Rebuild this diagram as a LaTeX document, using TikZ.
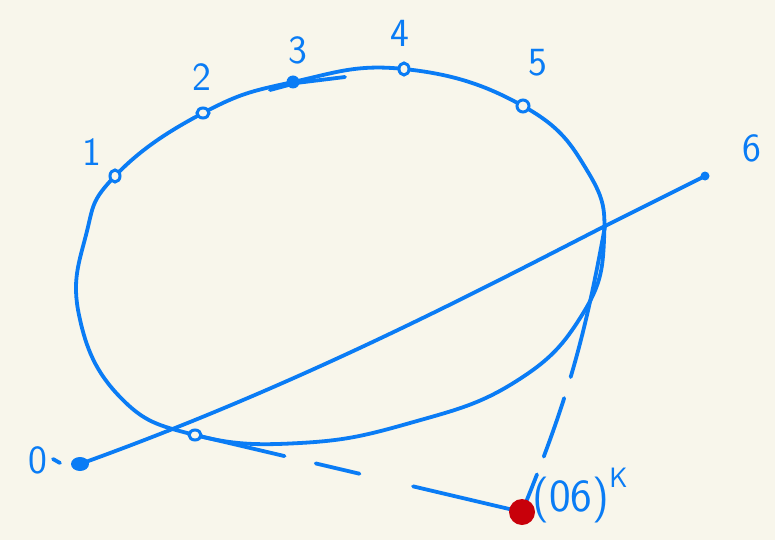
\documentclass[tikz,border=0pt]{standalone}
\usepackage{tikz}
\usepackage{amsmath}
\definecolor{pen}{RGB}{10,124,245}
\definecolor{paper}{RGB}{248,246,235}
\definecolor{blot}{RGB}{200,0,10}
\tikzset{
  stroke/.style={draw=pen,line width=3.8pt,line cap=round,line join=round},
  ring/.style={draw=pen,line width=3pt,fill=paper},
  lbl/.style={text=pen,font=\sffamily\fontsize{40}{40}\selectfont,inner sep=0pt},
}
\begin{document}
\begin{tikzpicture}[x=1pt,y=-1pt]
\path[fill=paper] (0,0) rectangle (775,540);
\useasboundingbox (0,0) rectangle (775,540);
% points on the conic:
\coordinate (p1) at (115,176);
\coordinate (p2) at (203,113);
\coordinate (p3) at (293,82);
\coordinate (p4) at (404,69);
\coordinate (p5) at (523,106);
\coordinate (b) at (195,435);
% points on the line:
\coordinate (p0) at (80,464);
\coordinate (p6) at (705,176);
\coordinate (c) at (605,226);
\coordinate (pole) at (522,512);
% the conic:
\path[stroke] plot[smooth cycle,tension=0.75] coordinates {(p1) (p2) (p3) (p4) (p5) (588,172) (604,240) (582,315) (515,382) (410,423) (300,443) (b) (120,397) (79,315) (86,235)};
% the line 06:
\path[stroke] (p0) .. controls (300,385) and (480,290) .. (c) -- (p6);
% tangents to the pole:
\path[stroke,dash pattern=on 92pt off 32pt on 45pt off 55pt on 130pt] (b) -- (pole);
\path[stroke,dash pattern=on 155pt off 22pt on 62pt off 19pt on 60pt] (c) to[bend left=6] (pole);
% marks:
\path[stroke] (270,90) -- (296,83) -- (345,77);
\path[ring] (p1) ellipse (5 and 6);
\path[ring] (p2) ellipse (6 and 5);
\path[ring] (p4) ellipse (5 and 6);
\path[ring] (p5) ellipse (6 and 6);
\path[ring] (b) ellipse (6 and 5);
\path[fill=pen] (p3) circle (6.5);
\path[fill=pen] (p0) ellipse (9 and 7);
\path[fill=pen] (p6) circle (4.5);
\path[stroke] (53,459) -- (60,463);
\path[fill=blot] (pole) circle (13);
% labels:
\node[lbl] (l0) at (38,460) {0};
\node[lbl] (l1) at (92,152) {1};
\node[lbl] (l2) at (202,77) {2};
\node[lbl] (l3) at (298,50) {3};
\node[lbl] (l4) at (400,33) {4};
\node[lbl] (l5) at (538,63) {5};
\node[lbl] (l6) at (752,148) {6};
\node[lbl,font=\sffamily\fontsize{46}{46}\selectfont] (lpole) at (580,496) {(06)\raisebox{24pt}{\fontsize{28}{28}\selectfont K}};
\end{tikzpicture}
\end{document}
